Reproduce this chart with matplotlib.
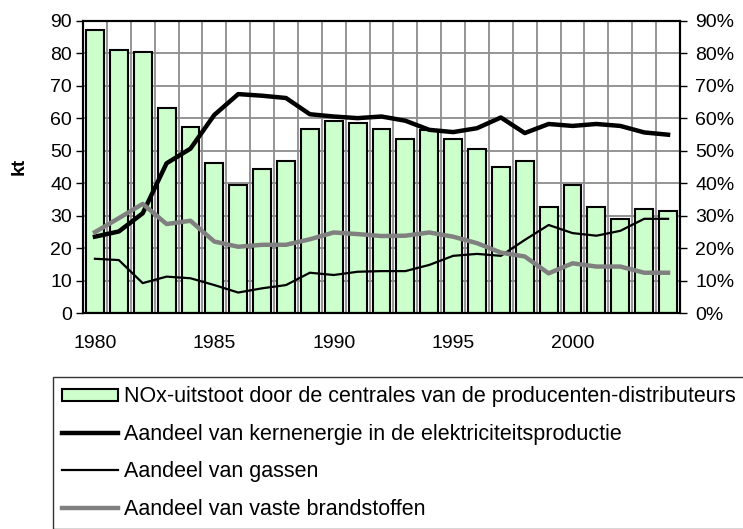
import matplotlib
matplotlib.use("Agg")
import matplotlib.pyplot as plt
import numpy as np
from matplotlib.ticker import FuncFormatter, FixedLocator

plt.rcParams['font.family'] = ['Liberation Sans', 'DejaVu Sans']

years = list(range(1980, 2005))
nox_kt = [87, 81, 80.5, 63, 57.3, 46.2, 39.5, 44.4, 46.9, 56.7, 59.2, 58.6, 56.7, 53.6,
          56.4, 53.6, 50.6, 45, 46.9, 32.7, 39.5, 32.7, 29, 32, 31.4]
nuclear_pct = [23.5, 25.1, 30.7, 46.1, 50.6, 61, 67.4, 66.9, 66.2, 61.2, 60.5, 60, 60.5, 59.2,
               56.4, 55.7, 56.9, 60.2, 55.4, 58.2, 57.6, 58.2, 57.6, 55.6, 54.9]
gas_pct = [16.7, 16.3, 9.2, 11.2, 10.7, 8.6, 6.3, 7.6, 8.6, 12.4, 11.7, 12.7, 12.9, 12.9,
           14.8, 17.6, 18.2, 17.6, 22.5, 27.1, 24.6, 23.8, 25.3, 29, 29]
solid_pct = [24.9, 29.2, 33.6, 27.4, 28.4, 22, 20.4, 21, 21, 22.7, 24.8, 24.3, 23.7, 23.8,
             24.8, 23.5, 21.5, 18.6, 17.4, 12.2, 15.3, 14.3, 14.3, 12.4, 12.4]
xtick_years = [1980, 1985, 1990, 1995, 2000]

labels = ["NOx-uitstoot door de centrales van de producenten-distributeurs",
          "Aandeel van kernenergie in de elektriciteitsproductie",
          "Aandeel van gassen",
          "Aandeel van vaste brandstoffen"]

fig = plt.figure(figsize=(7.43, 5.29), dpi=100)
ax = fig.add_axes([83/743, 1 - 313/529, (680-83)/743, (313-20.7)/529])

x = np.arange(len(years))
bars = ax.bar(x, nox_kt, width=0.75, color='#CCFFCC', edgecolor='black', linewidth=1.5,
              zorder=2, label=labels[0])
ax.set_xlim(-0.5, len(years) - 0.5)
ax.set_ylim(0, 90)
ax.set_yticks(range(0, 91, 10))
ax.set_xticks([years.index(y) for y in xtick_years])
ax.set_xticklabels([str(y) for y in xtick_years])
ax.xaxis.set_minor_locator(FixedLocator(np.arange(-0.5, len(years), 1)))
ax.grid(which='minor', axis='x', color='#8c8c8c', linewidth=1.3, zorder=0)
ax.grid(which='major', axis='y', color='#8c8c8c', linewidth=1.3, zorder=0)
ax.set_axisbelow(True)
ax.tick_params(axis='x', which='both', length=0, pad=16, labelsize=14)
ax.tick_params(axis='y', length=5, width=1, labelsize=14, pad=3)
ax.set_ylabel('kt', fontsize=14, fontweight='bold', labelpad=16)
for s in ['left', 'bottom', 'top', 'right']:
    ax.spines[s].set_linewidth(1.5)

ax2 = ax.twinx()
ax2.plot(x, nuclear_pct, color='black', linewidth=3.2, label=labels[1], zorder=3)
ax2.plot(x, gas_pct, color='black', linewidth=1.6, label=labels[2], zorder=3)
ax2.plot(x, solid_pct, color='#808080', linewidth=3.2, label=labels[3], zorder=3)
ax2.set_ylim(0, 90)
ax2.set_yticks(range(0, 91, 10))
ax2.yaxis.set_major_formatter(FuncFormatter(lambda v, p: f"{int(round(v))}%"))
ax2.tick_params(axis='y', length=5, width=1, labelsize=14, pad=6)
for s in ['left', 'bottom', 'top', 'right']:
    ax2.spines[s].set_linewidth(1.5)

handles = [bars] + ax2.get_lines()
leg = fig.legend(handles, labels, loc='upper left',
                 bbox_to_anchor=(53/743, 1 - 377/529), bbox_transform=fig.transFigure,
                 fontsize=15.5, frameon=True, fancybox=False, edgecolor='black',
                 handlelength=2.6, handleheight=0.45, labelspacing=0.76,
                 handletextpad=0.25, borderpad=0.44, borderaxespad=0)
leg.get_frame().set_linewidth(1.0)

fig.savefig('out.png', dpi=100)
